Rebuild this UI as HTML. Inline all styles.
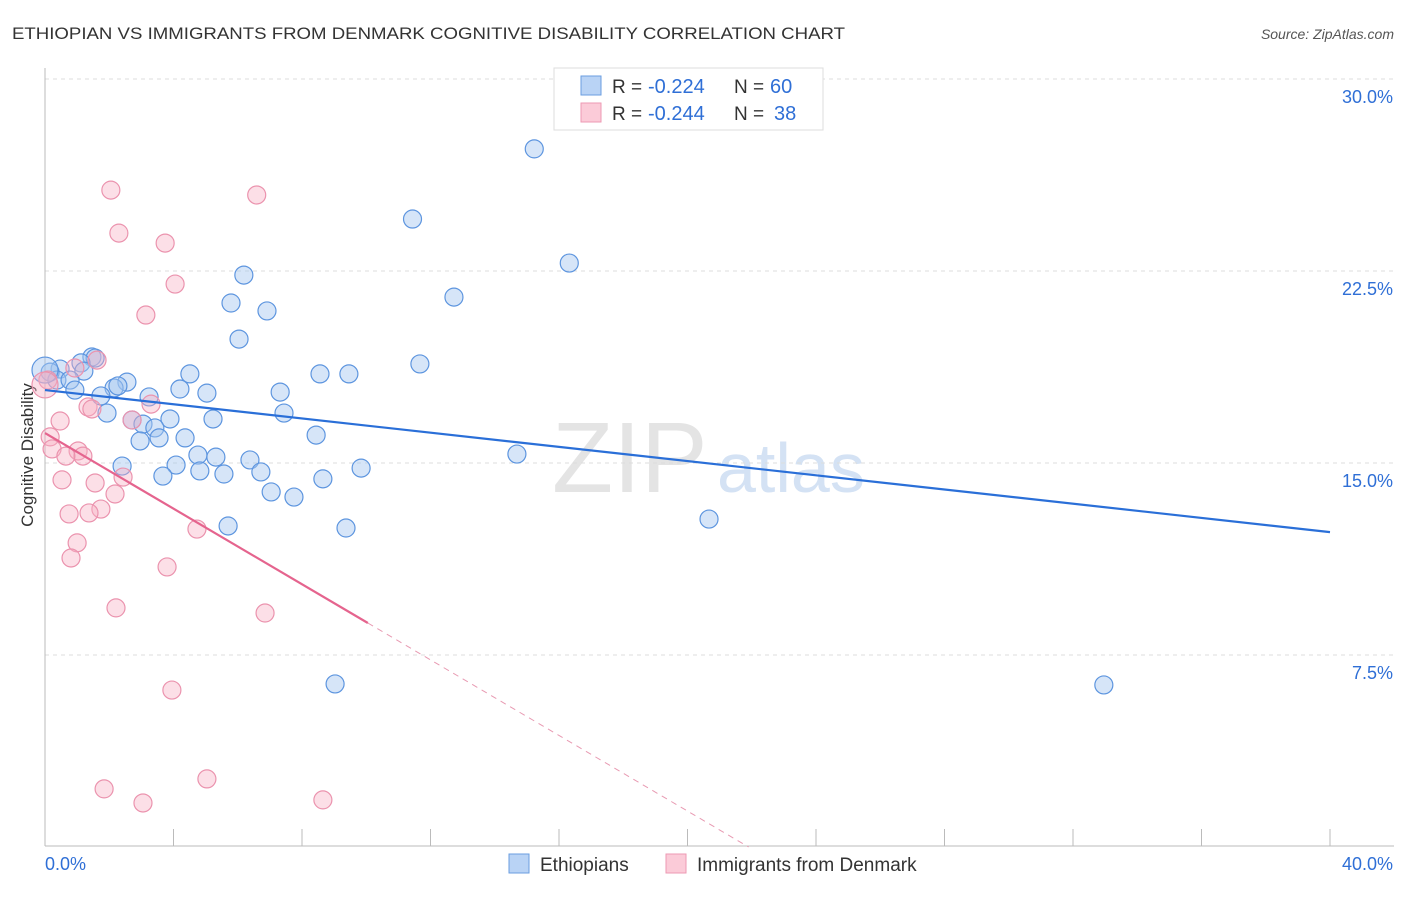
<!DOCTYPE html>
<html><head><meta charset="utf-8"><style>
body{margin:0;background:#fff;font-family:"Liberation Sans",sans-serif;}
svg text{font-family:"Liberation Sans",sans-serif;}
</style></head><body>
<svg id="c" width="1406" height="892" xmlns="http://www.w3.org/2000/svg">
<text x="12" y="39" font-size="17" fill="#333" textLength="833" lengthAdjust="spacingAndGlyphs">ETHIOPIAN VS IMMIGRANTS FROM DENMARK COGNITIVE DISABILITY CORRELATION CHART</text>
<text x="1394" y="39" font-size="14" fill="#555" font-style="italic" text-anchor="end">Source: ZipAtlas.com</text>
<text x="33" y="455" font-size="17" fill="#333" text-anchor="middle" transform="rotate(-90 33 455)">Cognitive Disability</text>
<text x="552" y="492" font-size="100" fill="#e4e4e4" font-family="Liberation Serif">ZIP</text>
<text x="717" y="492" font-size="70" fill="#d4e2f4">atlas</text>
<g id="grid"></g><g id="marks"></g>
<g>
<rect x="554" y="68" width="269" height="62" fill="#fff" stroke="#ddd"/>
<rect x="581" y="76" width="20" height="19" fill="#b9d3f5" stroke="#6a9ee0"/>
<rect x="581" y="103" width="20" height="19" fill="#fbcbd8" stroke="#ee9ab3"/>
<text x="612" y="93" font-size="19" fill="#333">R =</text><text x="648" y="93" font-size="20" fill="#2f6fd6">-0.224</text>
<text x="734" y="93" font-size="19" fill="#333">N =</text><text x="770" y="93" font-size="20" fill="#2f6fd6">60</text>
<text x="612" y="120" font-size="19" fill="#333">R =</text><text x="648" y="120" font-size="20" fill="#2f6fd6">-0.244</text>
<text x="734" y="120" font-size="19" fill="#333">N =</text><text x="774" y="120" font-size="20" fill="#2f6fd6">38</text>
</g>
<g>
<rect x="509" y="854" width="20" height="19" fill="#b9d3f5" stroke="#6a9ee0"/>
<text x="540" y="871" font-size="19" fill="#333">Ethiopians</text>
<rect x="666" y="854" width="20" height="19" fill="#fbcbd8" stroke="#ee9ab3"/>
<text x="697" y="871" font-size="19" fill="#333">Immigrants from Denmark</text>
</g>
</svg>
<script>
const yTicks=[7.5,15,22.5,30];
const yTickLabels=["7.5%","15.0%","22.5%","30.0%"];
const xTicks=[0,4,8,12,16,20,24,28,32,36,40];
const blueX=[15.23,11.44,16.32,6.19,12.73,5.79,6.91,6.04,11.67,1.46,1.56,1.12,1.21,0.47,0.16,0.37,0.78,0.93,2.55,2.15,2.27,1.74,4.51,8.56,9.46,4.20,3.24,5.04,7.32,1.93,2.71,3.05,3.89,5.23,7.44,3.42,4.36,3.55,2.96,8.44,4.76,5.32,6.38,14.69,2.40,4.08,4.82,6.72,9.84,3.67,5.57,8.65,7.04,7.75,5.70,9.37,20.67,9.03,32.96,0.0];
const blueY=[27.27,24.53,22.81,22.34,21.48,21.25,20.94,19.84,18.87,19.14,19.10,18.91,18.59,18.67,18.55,18.24,18.24,17.85,18.16,17.93,18.01,17.62,18.48,18.48,18.48,17.89,17.58,17.73,17.77,16.95,16.68,16.52,16.72,16.72,16.95,16.37,15.98,15.98,15.86,16.09,15.31,15.23,15.12,15.35,14.88,14.92,14.69,14.65,14.80,14.49,14.57,14.38,13.87,13.67,12.54,12.46,12.81,6.37,6.33,18.63];
const pinkX=[2.05,6.59,2.30,3.74,4.05,3.14,1.62,0.93,0.09,0.0,1.34,1.46,3.30,0.47,2.71,0.16,0.22,1.03,1.18,0.65,1.56,0.53,2.43,2.18,1.74,1.37,0.75,1.00,0.81,4.73,3.80,2.21,6.85,3.95,5.04,1.84,3.05,8.65];
const pinkY=[25.66,25.47,23.98,23.59,21.99,20.78,19.02,18.71,18.24,18.05,17.19,17.11,17.30,16.64,16.68,16.02,15.55,15.47,15.27,15.27,14.22,14.34,14.45,13.79,13.20,13.05,13.01,11.88,11.29,12.42,10.94,9.34,9.14,6.13,2.66,2.27,1.72,1.84];
const blueTrend=[17.85,12.30];
const pinkTrend=[16.17,8.75];
const pinkSolidEnd=10.05;
const X=v=>45+v/40*1285, Y=v=>847-v/7.5*192;
const NS="http://www.w3.org/2000/svg";
const grid=document.getElementById('grid'),marks=document.getElementById('marks');
function mk(tag,attrs,parent){const e=document.createElementNS(NS,tag);for(const k in attrs)e.setAttribute(k,attrs[k]);parent.appendChild(e);return e;}
yTicks.forEach((t,i)=>{
 const l=mk('line',{x1:45,x2:1394,y1:Y(t),y2:Y(t),stroke:'#ddd','stroke-dasharray':'4 4'},grid);
 
 
 const tx=mk('text',{x:1393,y:Y(t)+24,'font-size':18,fill:'#2f6fd6','text-anchor':'end'},grid);
 tx.textContent=yTickLabels[i];
 
 
});
const ax=mk('line',{x1:45,x2:45,y1:68,y2:846,stroke:'#bbb'},grid);


const bx=mk('line',{x1:45,x2:1394,y1:846,y2:846,stroke:'#bbb'},grid);


xTicks.forEach(t=>{
 const l=mk('line',{x1:X(t),x2:X(t),y1:829,y2:846,stroke:'#bbb'},grid);
 
 
});
[[0,'0.0%','start',45],[40,'40.0%','end',1393]].forEach(a=>{
 const tx=mk('text',{x:a[3],y:870,'font-size':18,fill:'#2f6fd6','text-anchor':a[2]},grid);
 tx.textContent=a[1];
 
 
});
blueX.forEach((x,i)=>{
 const c=mk('circle',{cx:X(x),cy:Y(blueY[i]),r:i==59?13:9,fill:'rgba(165,198,240,0.45)',stroke:'#5d95df','stroke-width':1.2},marks);
 
 
});
pinkX.forEach((x,i)=>{
 const c=mk('circle',{cx:X(x),cy:Y(pinkY[i]),r:i==9?13:9,fill:'rgba(247,175,196,0.4)',stroke:'#eb93ae','stroke-width':1.2},marks);
 
 
});
const bl=mk('line',{x1:X(0),y1:Y(blueTrend[0]),x2:X(40),y2:Y(blueTrend[1]),stroke:'#2a6fd8','stroke-width':2.2},marks);


const slope=(pinkTrend[1]-pinkTrend[0])/pinkSolidEnd, x0=-pinkTrend[0]/slope;
const pl=mk('line',{x1:X(0),y1:Y(pinkTrend[0]),x2:X(pinkSolidEnd),y2:Y(pinkTrend[1]),stroke:'#e5648e','stroke-width':2.2},marks);


const pd=mk('line',{x1:X(pinkSolidEnd),y1:Y(pinkTrend[1]),x2:X(x0),y2:Y(0),stroke:'#e89ab2','stroke-width':1,'stroke-dasharray':'6 5'},marks);


</script>
</body></html>
